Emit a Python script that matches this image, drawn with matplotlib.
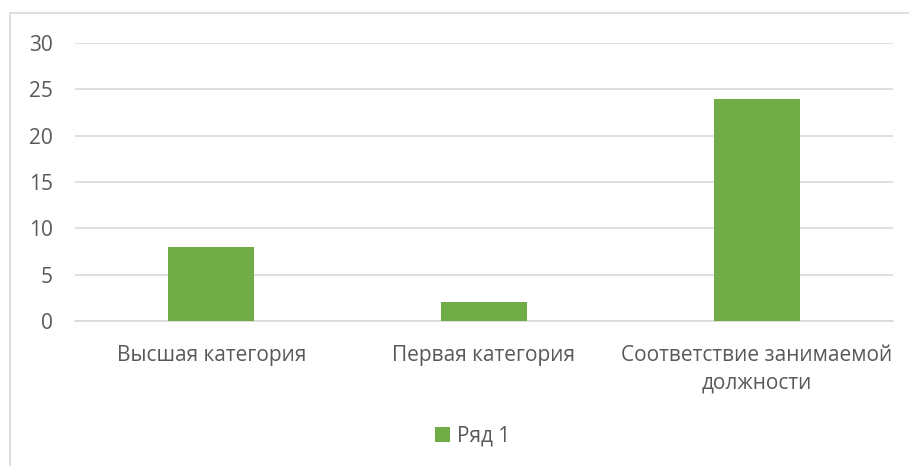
import matplotlib
matplotlib.use("Agg")
import matplotlib.pyplot as plt
from matplotlib.patches import Rectangle

categories = ["Высшая категория", "Первая категория", "Соответствие занимаемой\nдолжности"]
values = [8, 2, 24]
series_name = "Ряд 1"
yticks = [0, 5, 10, 15, 20, 25, 30]

plt.rcParams['font.family'] = ['Open Sans', 'DejaVu Sans']
W, H = 909, 466
fig = plt.figure(figsize=(W/100, H/100), dpi=100)
fig.patch.set_facecolor('white')

# outer chart border (right and bottom edges lie outside the picture)
fig.patches.append(Rectangle((10/W, -0.1), 1.2, 1.1 - 13/H, transform=fig.transFigure,
                             fill=False, edgecolor='#D9D9D9', linewidth=1.2))

ax = fig.add_axes([75/W, 1 - 321/H, (893-75)/W, (321-43)/H])
x = list(range(len(categories)))
ax.bar(x, values, width=0.315, color='#70AD47', zorder=3, label=series_name)
ax.set_xlim(-0.5, 2.5)
ax.set_ylim(0, 30)
ax.set_yticks(yticks)
ax.set_yticklabels([str(t) for t in yticks])
ax.yaxis.grid(True, color='#D9D9D9', linewidth=1.2, zorder=0)
ax.set_axisbelow(True)
for s in ['top', 'right', 'left']:
    ax.spines[s].set_visible(False)
ax.spines['bottom'].set_color('#D9D9D9')
ax.spines['bottom'].set_linewidth(1.2)
ax.tick_params(axis='y', length=0, pad=16, labelsize=15, labelcolor='#595959')
ax.tick_params(axis='x', length=0, pad=17, labelsize=15, labelcolor='#595959')
ax.set_xticks(x)
ax.set_xticklabels(categories, linespacing=1.45)

leg = fig.legend(loc='center', bbox_to_anchor=(473/W, 1 - 436/H), frameon=False,
                 fontsize=15, handlelength=0.7, handleheight=0.7, handletextpad=0.35,
                 labelcolor='#595959')
fig.savefig("out.png", dpi=100)
